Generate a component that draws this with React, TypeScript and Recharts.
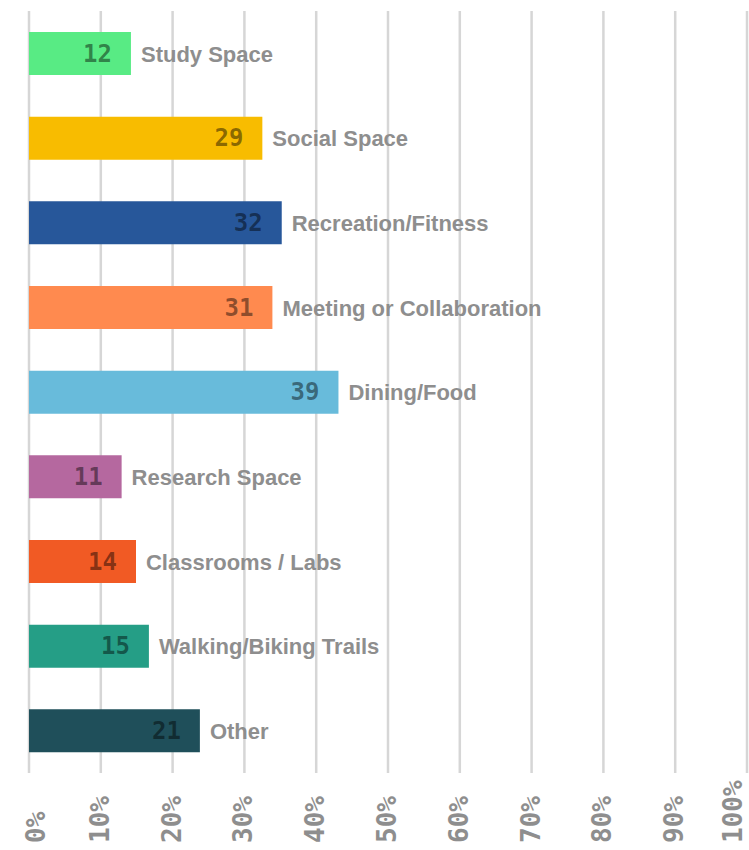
import React from "react";
import { BarChart, Bar, XAxis, YAxis, CartesianGrid, Cell, LabelList } from "recharts";

const categories = [
  "Study Space",
  "Social Space",
  "Recreation/Fitness",
  "Meeting or Collaboration",
  "Dining/Food",
  "Research Space",
  "Classrooms / Labs",
  "Walking/Biking Trails",
  "Other",
];
const percents = [14.2, 32.5, 35.2, 33.9, 43.1, 12.9, 14.9, 16.7, 23.8];
const counts = [12, 29, 32, 31, 39, 11, 14, 15, 21];
const colors = ["#58EB84", "#F8BC00", "#27579A", "#FF8A4F", "#68BBDB", "#B5689F", "#F15A24", "#259E86", "#1F4F5A"];
const xTicks = [0, 10, 20, 30, 40, 50, 60, 70, 80, 90, 100];

const data = categories.map((name, i) => ({ name, pct: percents[i], count: counts[i] }));

const ValueLabel = (props: any) => {
  const { x, y, width, height, index } = props;
  return (
    <text
      x={x + width - 19}
      y={y + height / 2 + 8}
      textAnchor="end"
      fill="rgba(0,0,0,0.45)"
      fontFamily="'DejaVu Sans Mono', monospace"
      fontWeight="bold"
      fontSize={24}
    >
      {counts[index]}
    </text>
  );
};

const NameLabel = (props: any) => {
  const { x, y, width, height, index } = props;
  return (
    <text
      x={x + width + 10}
      y={y + height / 2 + 8}
      textAnchor="start"
      fill="#8E8E8E"
      fontFamily="'Liberation Sans', Arial, sans-serif"
      fontWeight="bold"
      fontSize={22}
    >
      {categories[index]}
    </text>
  );
};

const XTick = (props: any) => {
  const { x, payload } = props;
  const tx = Math.min(Math.max(x + 8, 45), 742);
  const ty = 843;
  return (
    <text
      x={tx}
      y={ty}
      transform={`rotate(-90 ${tx} ${ty})`}
      textAnchor="start"
      fill="#8E8E8E"
      fontFamily="'DejaVu Sans Mono', monospace"
      fontWeight="bold"
      fontSize={26}
    >
      {payload.value}%
    </text>
  );
};

export default function App() {
  return (
    <div style={{ position: "absolute", left: 0, top: 0, width: 749, height: 850, background: "#fff" }}>
      <BarChart
        width={749}
        height={850}
        data={data}
        layout="vertical"
        margin={{ top: 11, right: 2, bottom: 0, left: 29 }}
        barCategoryGap="49%"
      >
        <CartesianGrid horizontal={false} vertical={true} stroke="#D6D6D6" strokeWidth={2.5} />
        <XAxis
          type="number"
          dataKey="pct"
          domain={[0, 100]}
          ticks={xTicks}
          interval={0}
          axisLine={false}
          tickLine={false}
          height={77}
          tick={<XTick />}
        />
        <YAxis type="category" dataKey="name" hide width={0} />
        <Bar dataKey="pct" isAnimationActive={false} barSize={43}>
          {data.map((d, i) => (
            <Cell key={d.name} fill={colors[i]} />
          ))}
          <LabelList dataKey="count" content={<ValueLabel />} />
          <LabelList dataKey="name" content={<NameLabel />} />
        </Bar>
      </BarChart>
    </div>
  );
}
